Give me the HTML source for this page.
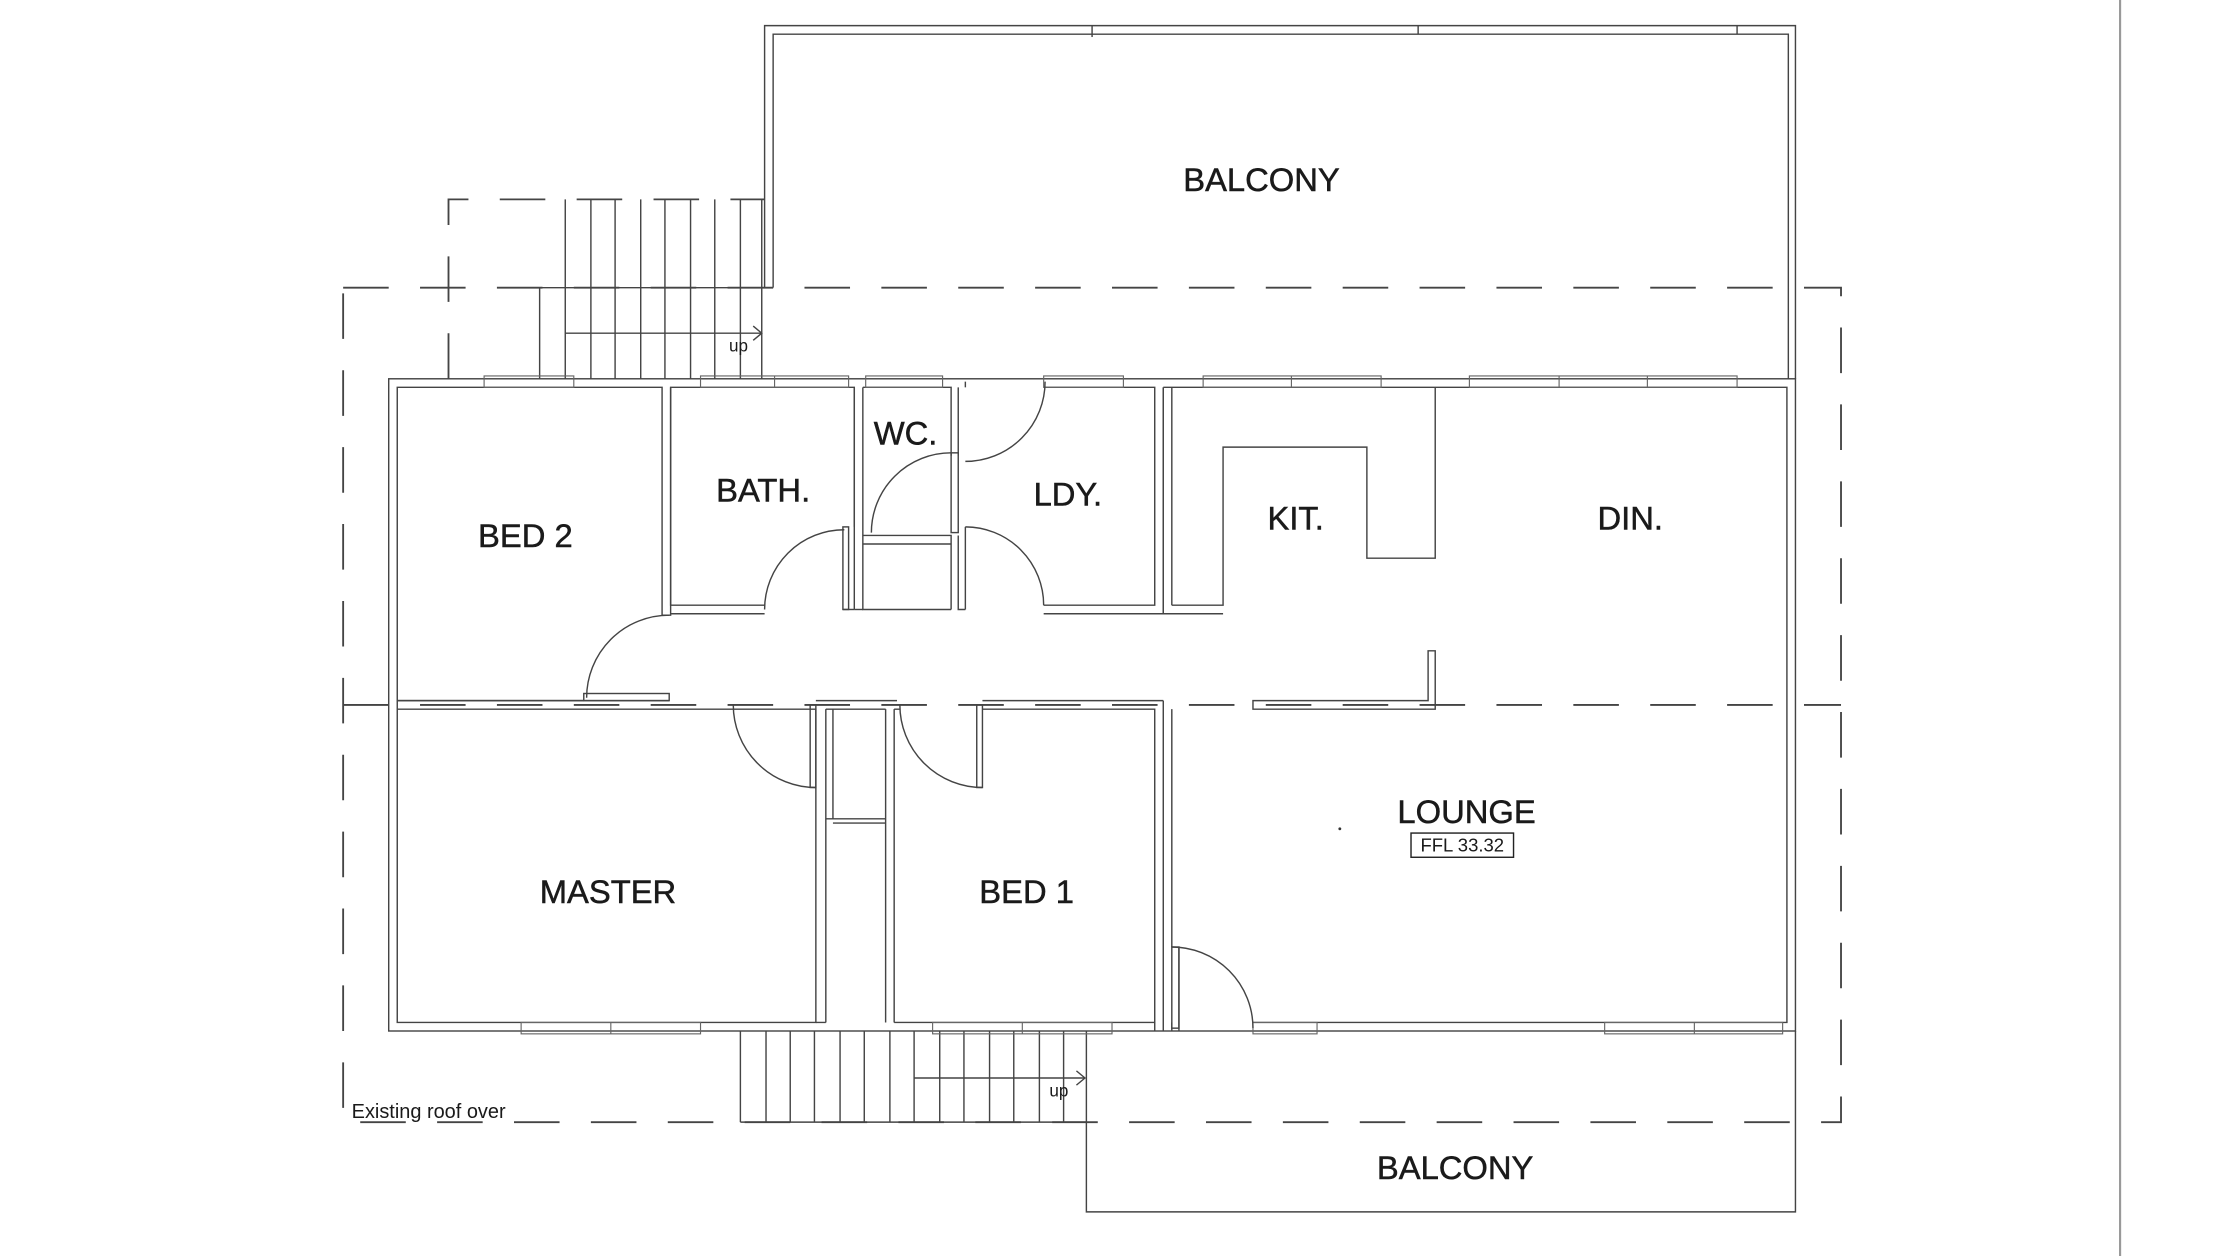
<!DOCTYPE html>
<html><head><meta charset="utf-8"><style>
html,body{margin:0;padding:0;background:#fff;}
svg{display:block;}
text{font-family:"Liberation Sans",sans-serif;fill:#1a1a1a;}
</style></head><body>
<svg width="2232" height="1256" viewBox="0 0 1567.6 882" preserveAspectRatio="none" xmlns="http://www.w3.org/2000/svg">
<rect width="1567.6" height="882" fill="#fff"/>
<g fill="none" stroke="#444" stroke-width="1">
<line x1="1489" y1="0" x2="1489" y2="882" stroke="#999" stroke-width="1.5"/>
<path d="M537,202 V18 H1261 V266"/>
<path d="M543,202 V24 H1256 V266"/>
<line x1="767" y1="18" x2="767" y2="26"/><line x1="996" y1="18" x2="996" y2="24"/><line x1="1220" y1="18" x2="1220" y2="24"/>
<g stroke="#444" stroke-width="1.3" stroke-dasharray="32 22">
<path d="M241,202 H1293 V788 H241 Z"/>
<line x1="241" y1="495" x2="1293" y2="495"/>
<path d="M315,266 V140 H537"/>
</g>
<line x1="379" y1="202" x2="379" y2="266"/>
<line x1="379" y1="202" x2="537" y2="202"/>
<g>
<line x1="397" y1="140" x2="397" y2="266"/><line x1="415" y1="140" x2="415" y2="266"/><line x1="432" y1="140" x2="432" y2="266"/><line x1="450" y1="140" x2="450" y2="266"/><line x1="467" y1="140" x2="467" y2="266"/><line x1="485" y1="140" x2="485" y2="266"/><line x1="502" y1="140" x2="502" y2="266"/><line x1="520" y1="140" x2="520" y2="266"/><line x1="535" y1="140" x2="535" y2="266"/>
</g>
<line x1="397" y1="234" x2="535" y2="234"/>
<path d="M529,229 L535,234 L529,239"/>
<g>
<line x1="520" y1="724" x2="520" y2="788"/><line x1="538" y1="724" x2="538" y2="788"/><line x1="555" y1="724" x2="555" y2="788"/><line x1="572" y1="724" x2="572" y2="788"/><line x1="590" y1="724" x2="590" y2="788"/><line x1="607" y1="724" x2="607" y2="788"/><line x1="625" y1="724" x2="625" y2="788"/><line x1="642" y1="724" x2="642" y2="788"/><line x1="660" y1="724" x2="660" y2="788"/><line x1="677" y1="724" x2="677" y2="788"/><line x1="695" y1="724" x2="695" y2="788"/><line x1="712" y1="724" x2="712" y2="788"/><line x1="730" y1="724" x2="730" y2="788"/><line x1="747" y1="724" x2="747" y2="788"/>
</g>
<line x1="642" y1="757" x2="762" y2="757"/>
<path d="M756,752 L762,757 L756,762"/>
<line x1="520" y1="788" x2="763" y2="788"/>
<path d="M763,724 V851 H1261 V724"/>
<rect x="273" y="266" width="988" height="458"/>
<path d="M465,432 V272 H279 V492 H410"/>
<path d="M537,425 H471 V272 H600 V370"/>
<path d="M471,272 V425"/>
<path d="M465,432 H471 V425"/>
<path d="M471,431 H537"/>
<path d="M600,428 V272"/>
<path d="M606,272 V428 H668"/>
<path d="M606,272 H668 V320"/>
<path d="M606,376 H668 V428"/>
<path d="M606,382 H668"/>
<path d="M600,428 H606"/>
<path d="M592,428 H600"/>
<path d="M673,272 V320 M673,376 V428 H678"/>
<path d="M678,268 V272"/>
<path d="M733,272 H811 V425 H733"/>
<path d="M733,431 H817 V272"/>
<path d="M678,370 V428"/>
<path d="M817,272 H1255 V718 H880"/>
<path d="M817,272 V431 H859"/>
<path d="M823,425 H859 V314 H960 V392 H1008 V272"/>
<path d="M823,425 V272"/>
<path d="M279,492 V718 H573 V498 H515"/>
<path d="M279,498 H515 M279,492 H470"/>
<path d="M573,492 H630 M580,498 H622 M580,498 V718 M573,718 H580"/>
<path d="M622,498 V718 M628,498 V718 M580,575 H622 M585,578 H622 M585,498 V575"/>
<path d="M690,492 H817 M690,498 H811 V718 H628 M628,498 H632"/>
<path d="M817,492 V724 M823,498 V665 M823,718 V724 M811,718 V724"/>
<path d="M828,665 V724"/>
<path d="M880,492 H1003 V457 H1008 V498 H880 Z"/>
<g stroke="#666" stroke-width="0.8">
<rect x="340" y="264" width="63" height="8"/>
<rect x="492" y="264" width="104" height="8"/><line x1="544" y1="264" x2="544" y2="272"/>
<rect x="608" y="264" width="54" height="8"/>
<rect x="733" y="264" width="56" height="8"/>
<rect x="845" y="264" width="125" height="8"/><line x1="907" y1="264" x2="907" y2="272"/>
<rect x="1032" y="264" width="188" height="8"/><line x1="1095" y1="264" x2="1095" y2="272"/><line x1="1157" y1="264" x2="1157" y2="272"/>
<rect x="366" y="718" width="126" height="8"/><line x1="429" y1="718" x2="429" y2="726"/>
<rect x="655" y="718" width="126" height="8"/><line x1="718" y1="718" x2="718" y2="726"/>
<rect x="880" y="718" width="45" height="8"/>
<rect x="1127" y="718" width="125" height="8"/><line x1="1190" y1="718" x2="1190" y2="726"/>
</g>
<path d="M470,432 A58,58 0 0 0 412,490"/><rect x="410" y="487" width="60" height="5"/>
<path d="M515,495 A58,58 0 0 0 573,553"/><rect x="569" y="495" width="4" height="58"/>
<path d="M632,495 A58,58 0 0 0 690,553"/><rect x="686" y="495" width="4" height="58"/>
<path d="M537,428 A56,56 0 0 1 593,372"/><rect x="592" y="370" width="4" height="58"/>
<path d="M612,374 A56,56 0 0 1 668,318"/><rect x="668" y="318" width="5" height="56"/>
<path d="M678,324 A56,56 0 0 0 734,268"/>
<path d="M678,370 A55,55 0 0 1 733,425"/>
<path d="M823,665 A57,57 0 0 1 880,722"/><rect x="823" y="665" width="5" height="57"/>
<rect x="991" y="585" width="72" height="17" stroke="#222"/>
</g>
<g font-size="23" stroke="#1a1a1a" stroke-width="0.35">
<text x="886" y="134" text-anchor="middle">BALCONY</text>
<text x="369" y="384" text-anchor="middle">BED 2</text>
<text x="536" y="352" text-anchor="middle">BATH.</text>
<text x="636" y="312" text-anchor="middle">WC.</text>
<text x="750" y="355" text-anchor="middle">LDY.</text>
<text x="910" y="372" text-anchor="middle">KIT.</text>
<text x="1145" y="372" text-anchor="middle">DIN.</text>
<text x="427" y="634" text-anchor="middle">MASTER</text>
<text x="721" y="634" text-anchor="middle">BED 1</text>
<text x="1030" y="578" text-anchor="middle">LOUNGE</text>
<text x="1022" y="828" text-anchor="middle">BALCONY</text>
</g>
<text x="1027" y="598" font-size="13" text-anchor="middle">FFL 33.32</text>
<text x="247" y="785" font-size="14">Existing roof over</text>
<text x="512" y="247" font-size="12">up</text>
<text x="737" y="770" font-size="12">up</text>
<circle cx="941" cy="582" r="1" fill="#333"/>
</svg>
</body></html>
